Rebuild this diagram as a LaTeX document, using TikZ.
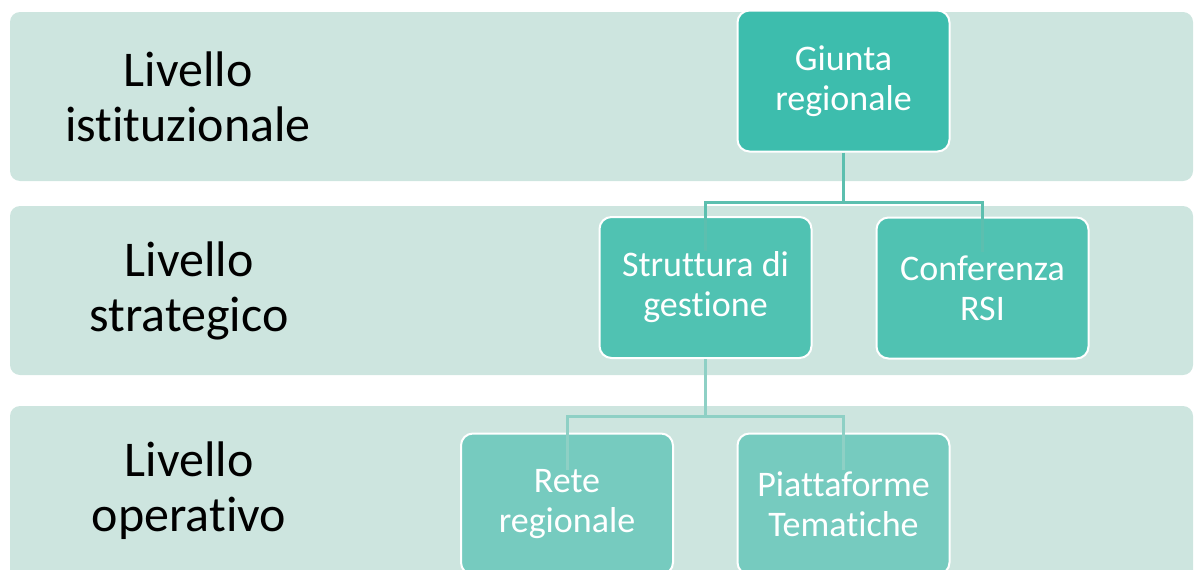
\documentclass[tikz,border=0pt]{standalone}
\usepackage{fontspec}
\setmainfont[Ligatures=NoCommon]{Carlito}
\definecolor{bandc}{HTML}{CDE5DF}
\definecolor{c1}{HTML}{3DBDAD}
\definecolor{c2}{HTML}{50C2B2}
\definecolor{c3}{HTML}{76CBBF}
\definecolor{l1}{HTML}{5CBFAF}
\definecolor{l2}{HTML}{8ED0C5}
\begin{document}
\begin{tikzpicture}[x=1pt,y=-1pt,
  bandbox/.style={fill=bandc, rounded corners=10pt},
  lbl/.style={font=\fontsize{50}{55}\selectfont, align=center, text=black, inner sep=0pt},
  orgbox/.style={draw=white, line width=2pt, rounded corners=12pt, minimum width=212pt, minimum height=141pt, align=center, text=white, font=\fontsize{36}{40}\selectfont, inner sep=0pt},
  conn/.style={line width=3pt}]
\useasboundingbox (0,0) rectangle (1194,570);
% bands
\path[bandbox] (10,12) rectangle (1193,181);
\path[bandbox] (10,206) rectangle (1193,375);
\path[bandbox] (10,406) rectangle (1193,600);
% level labels
\node[lbl] (l1t) at (188,97) {Livello\\istituzionale};
\node[lbl] (l2t) at (189,291) {Livello\\strategico};
\node[lbl] (l3t) at (189,491) {Livello\\operativo};
% boxes
\node[orgbox, fill=c1] (g) at (843.5,81) {Giunta\\regionale};
\node[orgbox, fill=c2] (s) at (705.5,287.5) {Struttura di\\gestione};
\node[orgbox, fill=c2] (c) at (982.5,288) {Conferenza\\RSI};
\node[orgbox, fill=c3] (r) at (567,504) {Rete\\regionale};
\node[orgbox, fill=c3] (p) at (843.5,504) {Piattaforme\\Tematiche};
% connector ends
\coordinate (sIn) at ([yshift=-35pt]s.north);
\coordinate (cIn) at ([yshift=-35pt]c.north);
\coordinate (rIn) at ([yshift=-37pt]r.north);
\coordinate (pIn) at ([yshift=-37pt]p.north);
% connectors
\draw[conn, l1] (g.south) -- ++(0,50) coordinate (gm) -| (sIn);
\draw[conn, l1] (gm) -| (cIn);
\draw[conn, l2] (s.south) -- ++(0,57) coordinate (sm) -| (rIn);
\draw[conn, l2] (sm) -| (pIn);
\end{tikzpicture}
\end{document}
